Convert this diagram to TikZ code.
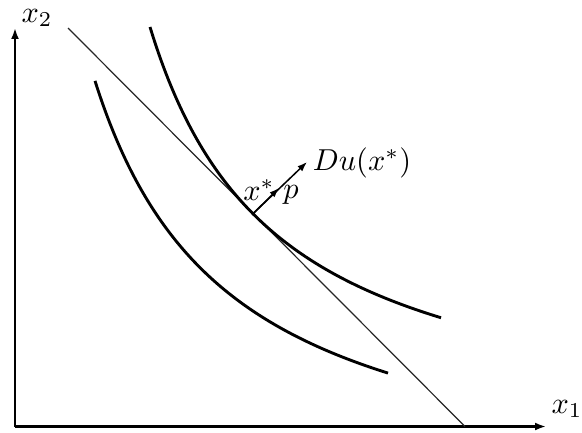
\documentclass[tikz,border=0pt]{standalone}
\usepackage{amsmath,amssymb}
\usepackage{tikz}
\usetikzlibrary{arrows.meta,positioning,calc}
\tikzset{
  axis/.style   = {-{Latex[length=3.6pt,width=2.6pt]}, line width=0.7pt},
  indiff/.style = {line width=0.95pt, samples=80, smooth},
  budget/.style = {line width=0.4pt, black!85},
  vec/.style    = {-{Latex[length=3.2pt,width=2.3pt]}, line width=0.5pt},
  lbl/.style    = {font=\normalsize, inner sep=1pt}
}
\begin{document}
\begin{tikzpicture}[x=0.33pt, y=0.33pt]
\useasboundingbox (0,0) rectangle (582,432);

% ---------- axes ----------
\coordinate (o)  at (15,5.5);
\coordinate (xe) at (546,5.5);
\coordinate (ye) at (15,404);
\draw[axis] (o) -- (xe);
\draw[axis] (o) -- (ye);
\node[lbl] (x1) at (567,23)  {$x_1$};
\node[lbl] (x2) at (37,414)  {$x_2$};

% ---------- budget line ----------
\coordinate (ba) at (68,404);
\coordinate (bb) at (465,5.5);
\draw[budget] (ba) -- (bb);

% ---------- indifference curves ----------
% u = b + k/(x-a), k scaled by 100 to keep pgfmath small
% upper one touches the budget line at x*
\draw[indiff, domain=150:441] plot (\x, {-13.4+534.71/((\x-22.2)/100)});
\draw[indiff, domain=95:388]  plot (\x, {-75.7+576.2/((\x+40)/100)});

% ---------- optimum and gradient ----------
\coordinate (xs) at (253,218.3);
\coordinate (pp) at (279,244);
\coordinate (du) at (307,270);
\fill (xs) circle (1.6);
\draw[vec] (xs) -- (du);
\draw[vec] (xs) -- (pp);
\node[lbl] (xsl) at (259,242) {$x^*$};
\node[lbl] (pl)  at (291,237) {$p$};
\node[lbl] (dul) at (362,269) {$Du(x^*)$};

\end{tikzpicture}
\end{document}
